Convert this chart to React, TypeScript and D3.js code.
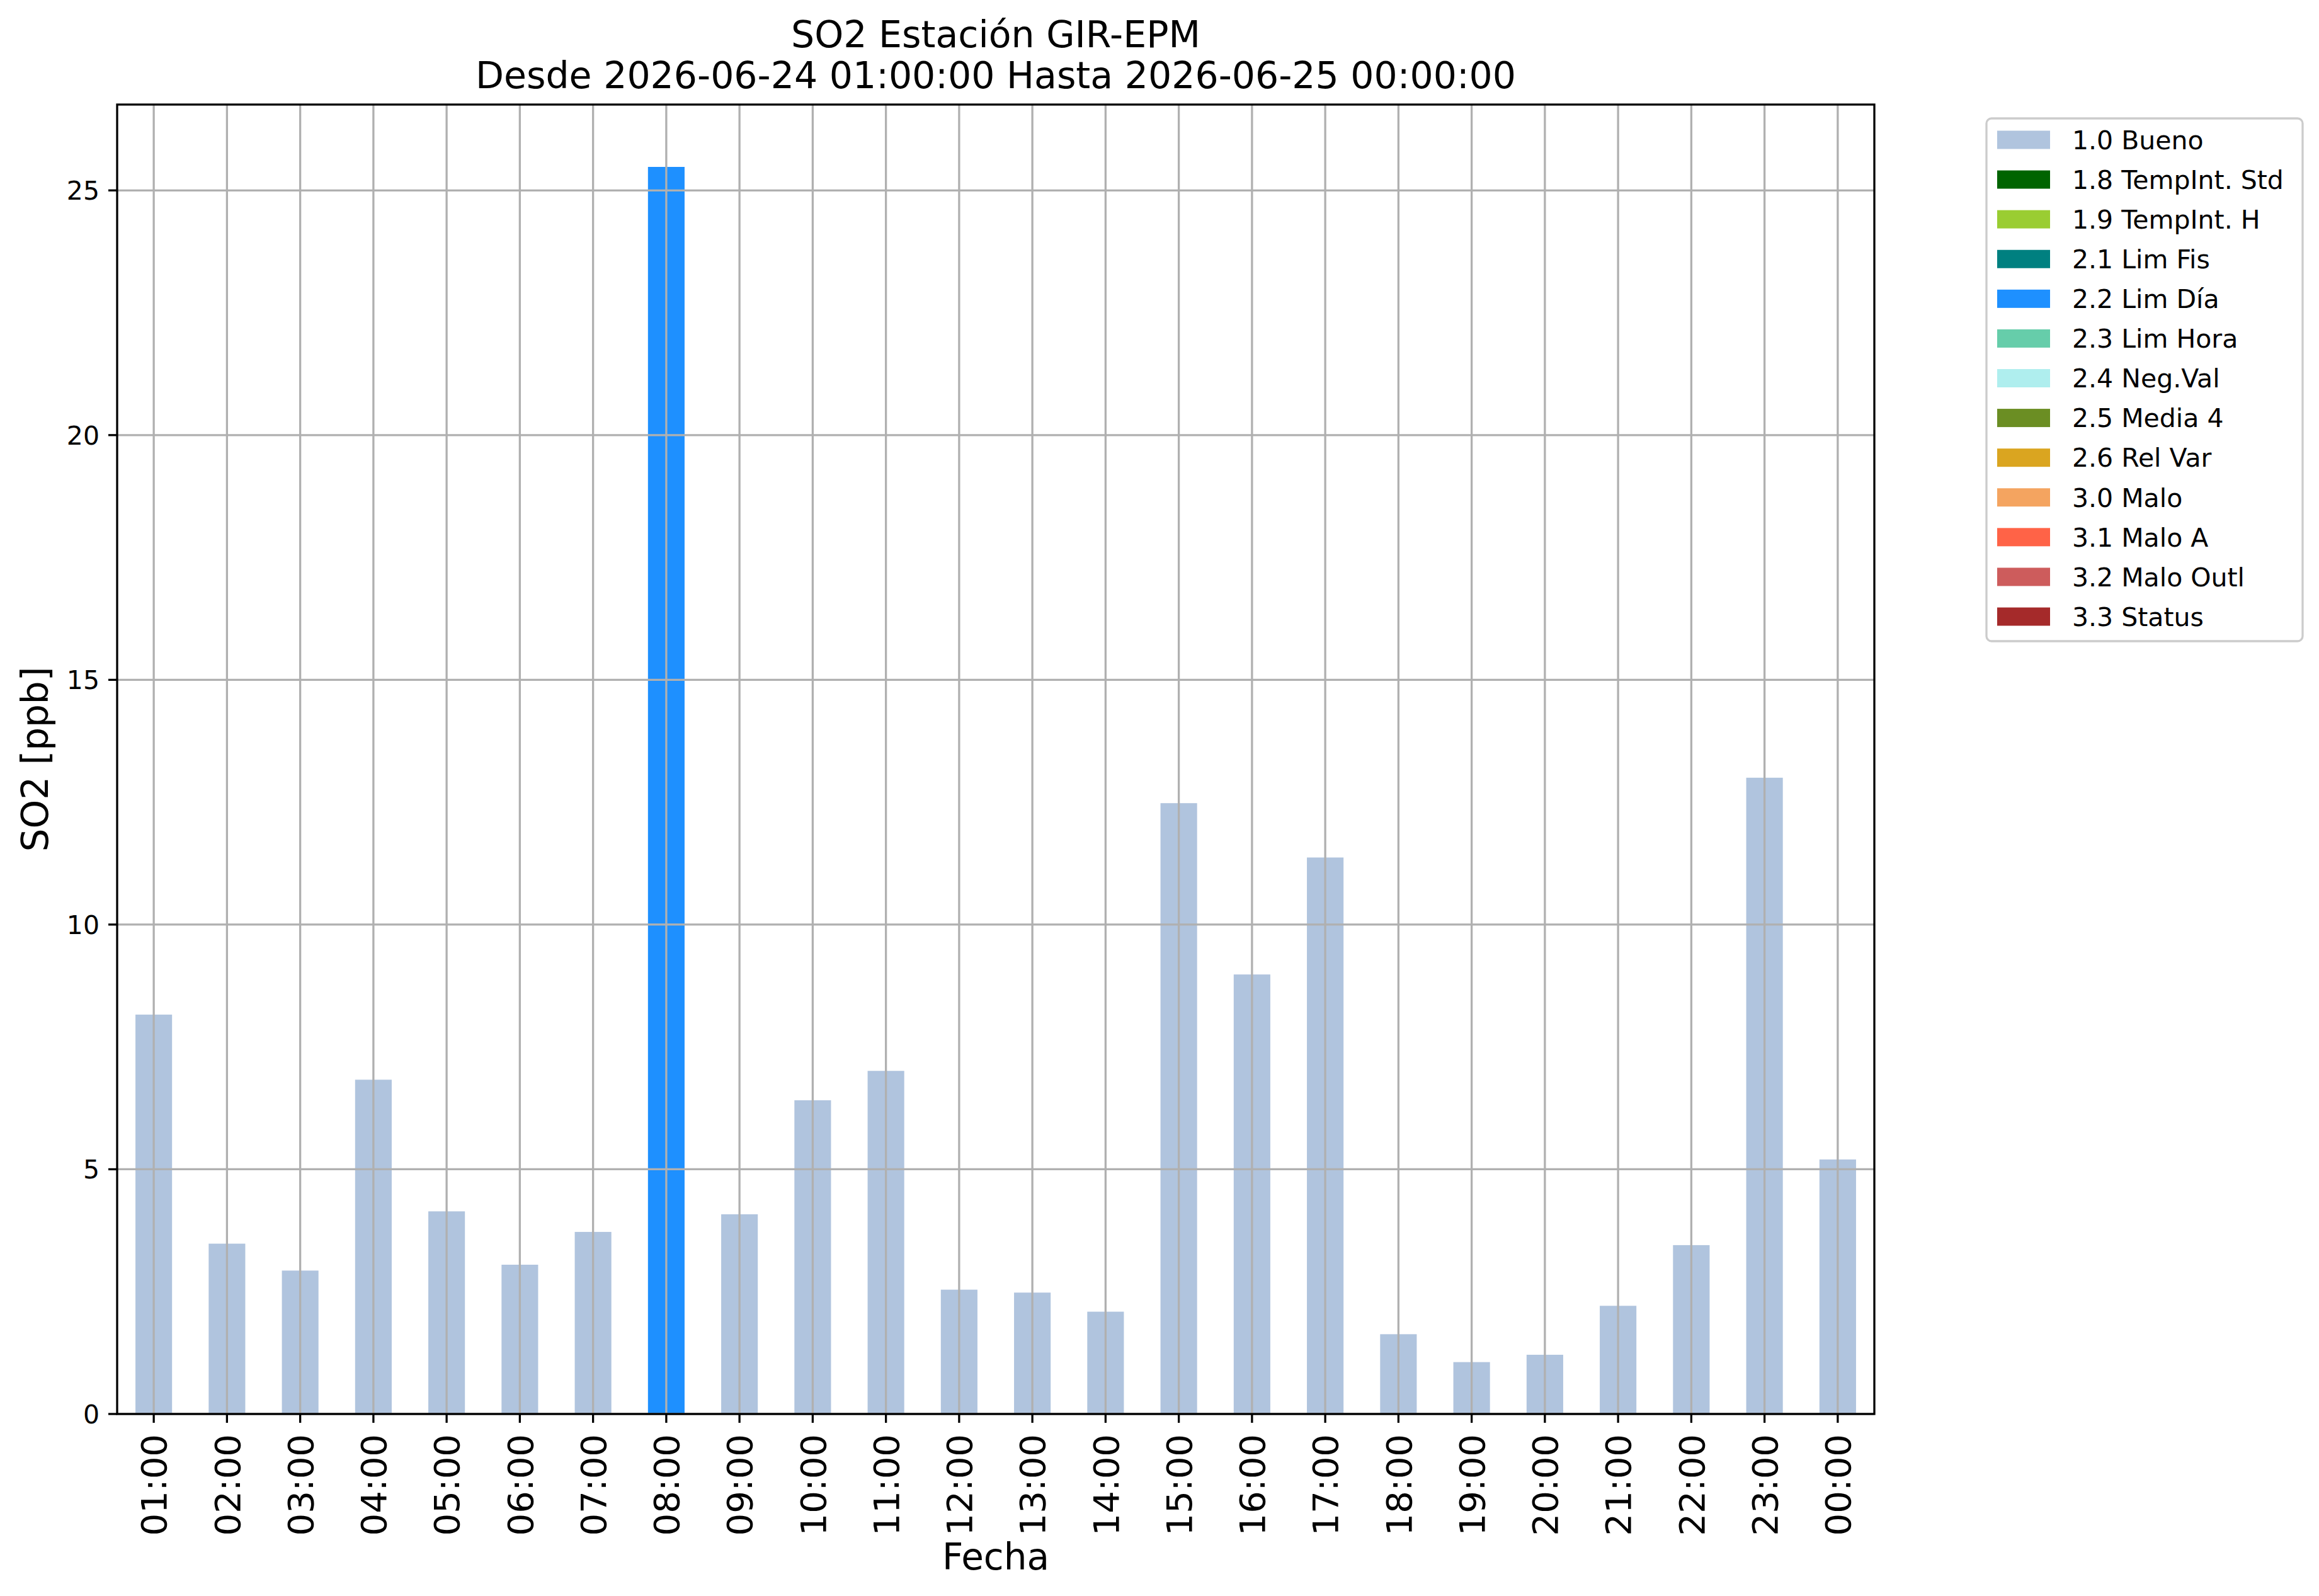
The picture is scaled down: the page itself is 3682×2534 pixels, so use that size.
import React from 'react'
import * as d3 from 'd3'

// hourly SO2 values
const hours = [
  '01:00', '02:00', '03:00', '04:00', '05:00', '06:00', '07:00', '08:00',
  '09:00', '10:00', '11:00', '12:00', '13:00', '14:00', '15:00', '16:00',
  '17:00', '18:00', '19:00', '20:00', '21:00', '22:00', '23:00', '00:00',
]
const values = [
  8.16, 3.48, 2.93, 6.83, 4.14, 3.05, 3.72, 25.48,
  4.08, 6.41, 7.01, 2.54, 2.48, 2.09, 12.48, 8.98,
  11.37, 1.63, 1.06, 1.21, 2.21, 3.45, 13.0, 5.2,
]
const flags = [
  '1.0', '1.0', '1.0', '1.0', '1.0', '1.0', '1.0', '2.2',
  '1.0', '1.0', '1.0', '1.0', '1.0', '1.0', '1.0', '1.0',
  '1.0', '1.0', '1.0', '1.0', '1.0', '1.0', '1.0', '1.0',
]

const flagCodes = ['1.0', '1.8', '1.9', '2.1', '2.2', '2.3', '2.4', '2.5', '2.6', '3.0', '3.1', '3.2', '3.3']
const flagNames = [
  '1.0 Bueno', '1.8 TempInt. Std', '1.9 TempInt. H', '2.1 Lim Fis', '2.2 Lim Día',
  '2.3 Lim Hora', '2.4 Neg.Val', '2.5 Media 4', '2.6 Rel Var', '3.0 Malo',
  '3.1 Malo A', '3.2 Malo Outl', '3.3 Status',
]
const flagColors = [
  '#b0c4de', '#006400', '#9acd32', '#008080', '#1e90ff',
  '#66cdaa', '#afeeee', '#6b8e23', '#daa520', '#f4a460',
  '#ff6347', '#cd5c5c', '#a52a2a',
]
const yTicks = [0, 5, 10, 15, 20, 25]

const width = 3682
const height = 2534
const left = 186
const right = 2976
const top = 166
const bottom = 2245
const font = 'DejaVu Sans, sans-serif'

const App: React.FunctionComponent = () => {
  const x = d3
    .scaleBand<string>()
    .domain(hours)
    .range([left, right])
    .paddingInner(0.5)
    .paddingOuter(0.25)

  const y = d3
    .scaleLinear()
    .domain([0, (d3.max(values) ?? 1) * 1.05])
    .range([bottom, top])

  const color = d3.scaleOrdinal<string, string>().domain(flagCodes).range(flagColors)

  const legendY = d3
    .scalePoint<string>()
    .domain(flagNames)
    .range([222, 979])

  const midX = (left + right) / 2
  const midY = (top + bottom) / 2
  const bw = x.bandwidth()

  return (
    <svg
      width={width}
      height={height}
      style={{ position: 'absolute', left: 0, top: 0, background: '#fff' }}
      fontFamily={font}
    >
      <rect x={0} y={0} width={width} height={height} fill="#fff" />

      {/* bars */}
      {hours.map((h, i) => (
        <rect
          key={h}
          x={x(h)}
          y={y(values[i])}
          width={bw}
          height={y(0) - y(values[i])}
          fill={color(flags[i])}
        />
      ))}

      {/* grid */}
      {hours.map(h => (
        <line
          key={'gx' + h}
          x1={(x(h) ?? 0) + bw / 2}
          x2={(x(h) ?? 0) + bw / 2}
          y1={top}
          y2={bottom}
          stroke="#b0b0b0"
          strokeWidth={3.3}
        />
      ))}
      {yTicks.map(t => (
        <line
          key={'gy' + t}
          x1={left}
          x2={right}
          y1={y(t)}
          y2={y(t)}
          stroke="#b0b0b0"
          strokeWidth={3.3}
        />
      ))}

      {/* frame */}
      <rect
        x={left}
        y={top}
        width={right - left}
        height={bottom - top}
        fill="none"
        stroke="#000"
        strokeWidth={3.3}
      />

      {/* y axis */}
      {yTicks.map(t => (
        <g key={'ty' + t}>
          <line x1={left - 14} x2={left} y1={y(t)} y2={y(t)} stroke="#000" strokeWidth={3.3} />
          <text x={left - 28} y={y(t)} dy="0.36em" textAnchor="end" fontSize={41}>
            {t}
          </text>
        </g>
      ))}

      {/* x axis */}
      {hours.map(h => {
        const cx = (x(h) ?? 0) + bw / 2
        return (
          <g key={'tx' + h}>
            <line x1={cx} x2={cx} y1={bottom} y2={bottom + 14} stroke="#000" strokeWidth={3.3} />
            <text
              transform={`translate(${cx},${bottom + 32}) rotate(-90)`}
              dy="0.36em"
              textAnchor="end"
              fontSize={56}
            >
              {h}
            </text>
          </g>
        )
      })}

      {/* labels */}
      <text x={midX} y={2492} textAnchor="middle" fontSize={58}>
        Fecha
      </text>
      <text transform={`translate(76,${midY}) rotate(-90)`} textAnchor="middle" fontSize={58}>
        SO2 [ppb]
      </text>
      <text x={midX} y={75} textAnchor="middle" fontSize={58.5}>
        SO2 Estación GIR-EPM
      </text>
      <text x={midX} y={140} textAnchor="middle" fontSize={58.5}>
        Desde 2026-06-24 01:00:00 Hasta 2026-06-25 00:00:00
      </text>

      {/* legend */}
      <rect
        x={3154}
        y={188}
        width={502}
        height={830}
        rx={8}
        fill="#fff"
        fillOpacity={0.8}
        stroke="#cccccc"
        strokeWidth={3.3}
      />
      {flagNames.map((name, i) => (
        <g key={name}>
          <rect
            x={3171}
            y={(legendY(name) ?? 0) - 14.5}
            width={84}
            height={29}
            fill={flagColors[i]}
          />
          <text x={3290} y={legendY(name)} dy="0.36em" fontSize={41}>
            {name}
          </text>
        </g>
      ))}
    </svg>
  )
}

export default App
